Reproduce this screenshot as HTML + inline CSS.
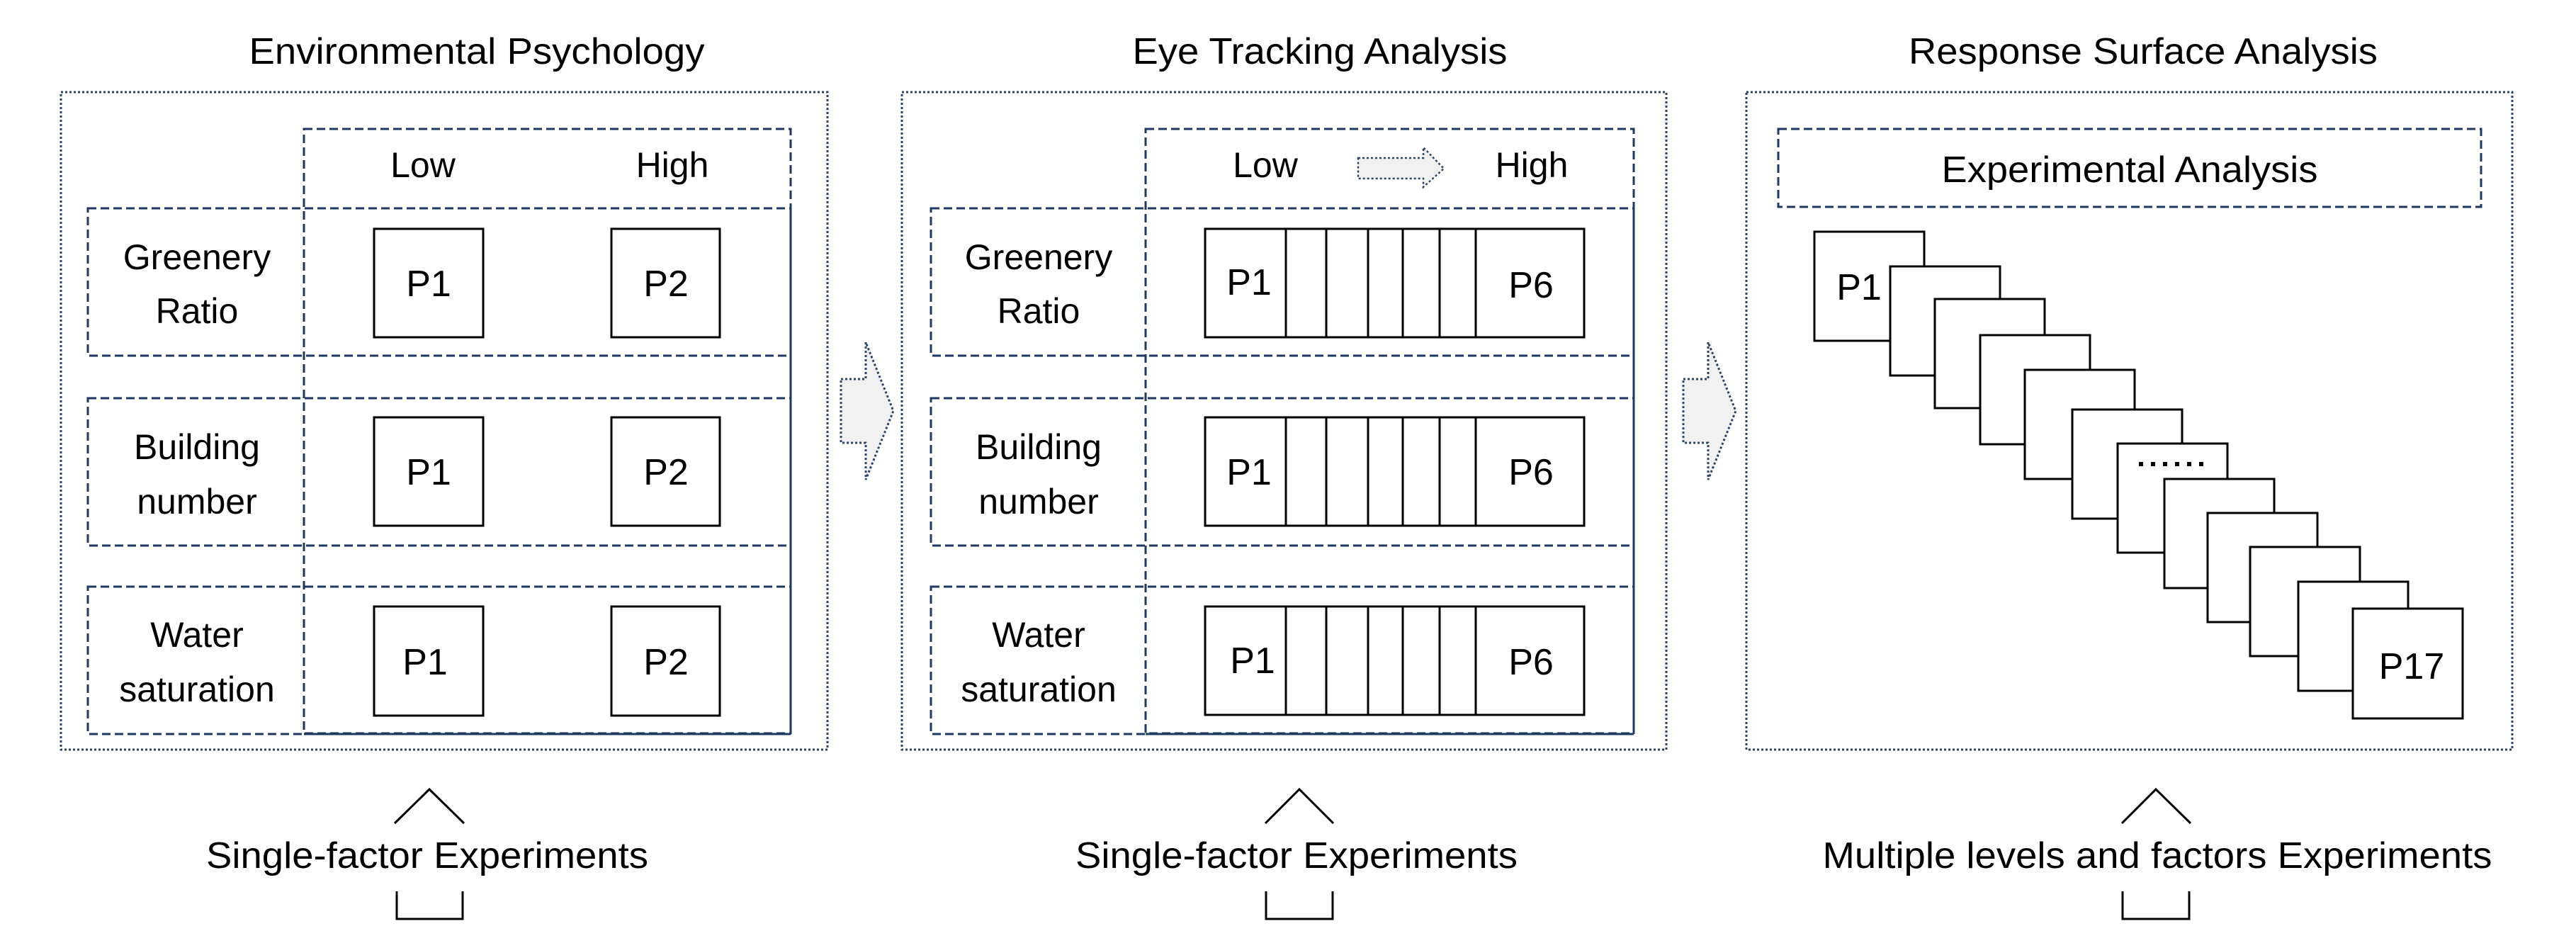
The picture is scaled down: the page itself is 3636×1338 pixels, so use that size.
<!DOCTYPE html>
<html><head><meta charset="utf-8"><style>
html,body{margin:0;padding:0;background:#fff;}
svg{display:block;}
text{font-family:"Liberation Sans",Arial,sans-serif;fill:#000;}
</style></head><body>
<svg width="3636" height="1338" viewBox="0 0 3636 1338" xmlns="http://www.w3.org/2000/svg">
<defs>
<g id="bigarrow">
<polygon points="0,-45 35,-45 35,-97 74,0 35,97 35,45 0,45" fill="#f1f1f1" stroke="#2a4468" stroke-width="3" stroke-dasharray="3 3"/>
</g>
</defs>

<!-- ===== Panel 1 ===== -->
<text x="673" y="90" font-size="52" text-anchor="middle" textLength="643" lengthAdjust="spacingAndGlyphs">Environmental Psychology</text>
<rect x="86" y="130" width="1082" height="928" fill="none" stroke="#2a4468" stroke-width="3" stroke-dasharray="3 3"/>
<g fill="none" stroke="#1f3a5f" stroke-width="3" stroke-dasharray="12 6">
<rect x="429" y="182" width="687" height="853"/>
<rect x="124" y="294" width="992" height="208"/>
<rect x="124" y="562" width="992" height="208"/>
<rect x="124" y="828" width="992" height="208"/>
</g>
<g fill="none" stroke="#1f3a5f" stroke-width="3">
<line x1="1116" y1="294" x2="1116" y2="1036"/>
<line x1="429" y1="1036" x2="1116" y2="1036"/>
</g>
<text x="597" y="250" font-size="50" text-anchor="middle">Low</text>
<text x="949" y="250" font-size="50" text-anchor="middle">High</text>
<g font-size="50" text-anchor="middle">
<text x="278" y="380">Greenery</text><text x="278" y="456">Ratio</text>
<text x="278" y="648">Building</text><text x="278" y="725">number</text>
<text x="278" y="913">Water</text><text x="278" y="990">saturation</text>
</g>
<g fill="#fff" stroke="#000" stroke-width="3">
<rect x="528" y="323" width="154" height="153"/><rect x="863" y="323" width="153" height="153"/>
<rect x="528" y="589" width="154" height="153"/><rect x="863" y="589" width="153" height="153"/>
<rect x="528" y="856" width="154" height="154"/><rect x="863" y="856" width="153" height="154"/>
</g>
<g font-size="52" text-anchor="middle">
<text x="605" y="418">P1</text><text x="940" y="418">P2</text>
<text x="605" y="684">P1</text><text x="940" y="684">P2</text>
<text x="600" y="952">P1</text><text x="940" y="952">P2</text>
</g>
<polyline points="557,1162 606,1114 655,1162" fill="none" stroke="#000" stroke-width="3"/>
<text x="603" y="1225" font-size="52" text-anchor="middle" textLength="624" lengthAdjust="spacingAndGlyphs">Single-factor Experiments</text>
<polyline points="560,1258 560,1297 653,1297 653,1258" fill="none" stroke="#000" stroke-width="3"/>

<!-- arrow 1 -->
<use href="#bigarrow" x="1187" y="580"/>

<!-- ===== Panel 2 ===== -->
<text x="1863" y="90" font-size="52" text-anchor="middle" textLength="529" lengthAdjust="spacingAndGlyphs">Eye Tracking Analysis</text>
<rect x="1273" y="130" width="1079" height="928" fill="none" stroke="#2a4468" stroke-width="3" stroke-dasharray="3 3"/>
<g fill="none" stroke="#1f3a5f" stroke-width="3" stroke-dasharray="12 6">
<rect x="1617" y="182" width="689" height="853"/>
<rect x="1314" y="294" width="992" height="208"/>
<rect x="1314" y="562" width="992" height="208"/>
<rect x="1314" y="828" width="992" height="208"/>
</g>
<g fill="none" stroke="#1f3a5f" stroke-width="3">
<line x1="2306" y1="294" x2="2306" y2="1036"/>
<line x1="1617" y1="1036" x2="2306" y2="1036"/>
</g>
<text x="1786" y="250" font-size="50" text-anchor="middle">Low</text>
<text x="2162" y="250" font-size="50" text-anchor="middle">High</text>
<polygon points="1917,223 2009,223 2009,208 2038,238 2009,264 2009,252 1917,252" fill="#f1f1f1" stroke="#2a4468" stroke-width="2.5" stroke-dasharray="3 3"/>
<g font-size="50" text-anchor="middle">
<text x="1466" y="380">Greenery</text><text x="1466" y="456">Ratio</text>
<text x="1466" y="648">Building</text><text x="1466" y="725">number</text>
<text x="1466" y="913">Water</text><text x="1466" y="990">saturation</text>
</g>
<g fill="none" stroke="#000" stroke-width="3">
<g id="strip1">
<rect x="1701" y="323" width="535" height="153" fill="#fff"/>
<line x1="1815" y1="323" x2="1815" y2="476"/><line x1="1872" y1="323" x2="1872" y2="476"/>
<line x1="1931" y1="323" x2="1931" y2="476"/><line x1="1980" y1="323" x2="1980" y2="476"/>
<line x1="2032" y1="323" x2="2032" y2="476"/><line x1="2083" y1="323" x2="2083" y2="476"/>
</g>
<use href="#strip1" y="266"/>
<use href="#strip1" y="533"/>
</g>
<g font-size="52" text-anchor="middle">
<text x="1763" y="416">P1</text><text x="2161" y="420">P6</text>
<text x="1763" y="684">P1</text><text x="2161" y="684">P6</text>
<text x="1768" y="950">P1</text><text x="2161" y="952">P6</text>
</g>
<polyline points="1786,1162 1834,1114 1882,1162" fill="none" stroke="#000" stroke-width="3"/>
<text x="1830" y="1225" font-size="52" text-anchor="middle" textLength="624" lengthAdjust="spacingAndGlyphs">Single-factor Experiments</text>
<polyline points="1787,1258 1787,1297 1881,1297 1881,1258" fill="none" stroke="#000" stroke-width="3"/>

<!-- arrow 2 -->
<use href="#bigarrow" x="2376" y="580"/>

<!-- ===== Panel 3 ===== -->
<text x="3025" y="90" font-size="52" text-anchor="middle" textLength="662" lengthAdjust="spacingAndGlyphs">Response Surface Analysis</text>
<rect x="2465" y="130" width="1081" height="928" fill="none" stroke="#2a4468" stroke-width="3" stroke-dasharray="3 3"/>
<rect x="2510" y="182" width="992" height="110" fill="none" stroke="#1f3a5f" stroke-width="3" stroke-dasharray="12 6"/>
<text x="3006" y="257" font-size="52" text-anchor="middle" textLength="531" lengthAdjust="spacingAndGlyphs">Experimental Analysis</text>
<g fill="#fff" stroke="#000" stroke-width="3">
<rect x="2561" y="327" width="155" height="154"/>
<rect x="2668" y="376" width="155" height="154"/>
<rect x="2731" y="422" width="155" height="154"/>
<rect x="2795" y="473" width="155" height="154"/>
<rect x="2858" y="522" width="155" height="154"/>
<rect x="2925" y="578" width="155" height="154"/>
<rect x="2989" y="626" width="155" height="154"/>
<rect x="3055" y="676" width="155" height="154"/>
<rect x="3116" y="724" width="155" height="154"/>
<rect x="3176" y="772" width="155" height="154"/>
<rect x="3244" y="821" width="155" height="154"/>
<rect x="3321" y="859" width="155" height="155"/>
</g>
<text x="2624" y="423" font-size="52" text-anchor="middle">P1</text>
<line x1="3019" y1="655" x2="3120" y2="655" stroke="#000" stroke-width="6" stroke-dasharray="6 11"/>
<text x="3404" y="958" font-size="52" text-anchor="middle">P17</text>
<polyline points="2995,1162 3043,1114 3092,1162" fill="none" stroke="#000" stroke-width="3"/>
<text x="3045" y="1225" font-size="52" text-anchor="middle" textLength="945" lengthAdjust="spacingAndGlyphs">Multiple levels and factors Experiments</text>
<polyline points="2996,1258 2996,1297 3090,1297 3090,1258" fill="none" stroke="#000" stroke-width="3"/>
</svg>
</body></html>
